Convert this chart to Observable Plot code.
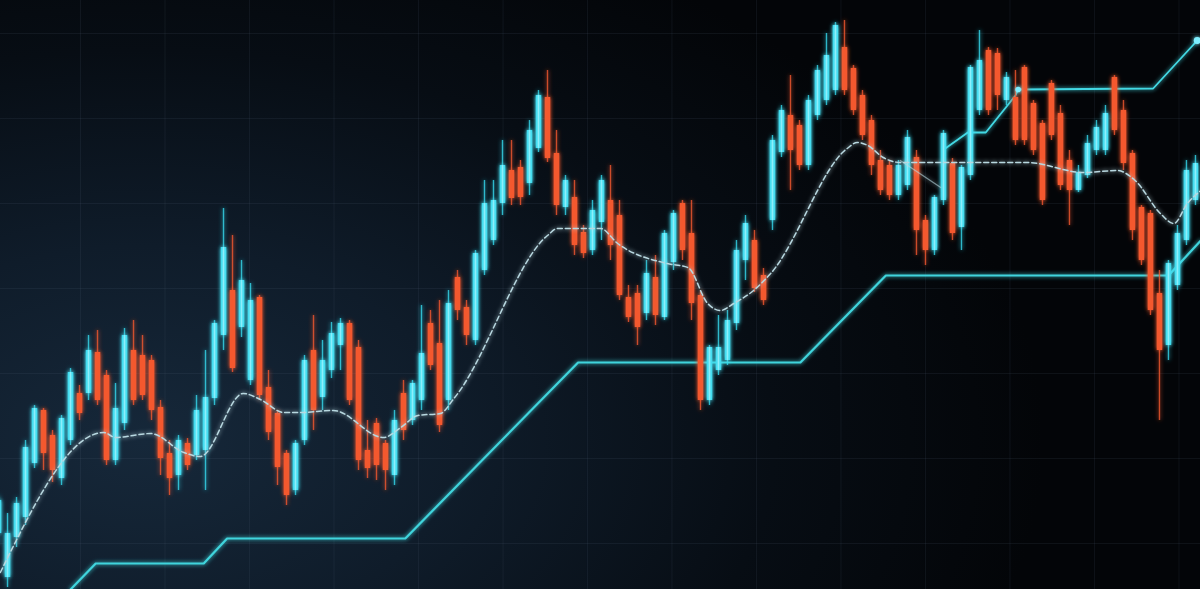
<!DOCTYPE html>
<html>
<head>
<meta charset="utf-8">
<script src="https://cdn.jsdelivr.net/npm/d3@7"></script>
<script src="https://cdn.jsdelivr.net/npm/@observablehq/plot@0.6"></script>
<style>
  html, body { margin: 0; padding: 0; }
  body {
    width: 1200px; height: 589px; overflow: hidden;
    background: radial-gradient(ellipse 75% 95% at 12% 75%, #16283a 0%, #0f1c2a 35%, #070d14 70%, #030508 100%);
  }
  #chart svg { display: block; }
</style>
</head>
<body>
<div id="chart"></div>
<script>
// Candle values (price units), one per session
const open  = [56,12,52,72,126,179,154,111,149,196,196,237,214,129,166,239,234,229,182,136,114,146,134,139,191,254,299,262,209,292,202,176,136,99,149,239,192,219,244,266,242,139,166,146,114,196,169,189,266,246,189,312,282,249,319,349,386,419,422,406,441,492,436,382,392,357,339,367,389,374,292,296,276,312,272,327,386,356,294,189,219,229,266,329,349,314,369,437,474,464,424,474,489,499,542,521,494,469,429,424,394,404,432,369,339,389,426,362,414,479,539,536,489,492,522,486,466,506,476,429,399,414,439,439,512,479,436,382,376,296,244,304,349,389];
const close = [89,56,86,142,181,136,119,171,217,176,239,189,129,181,254,189,194,179,131,111,149,124,179,192,266,342,221,309,289,194,157,122,94,146,229,179,229,256,266,189,129,121,124,119,169,159,206,236,224,164,286,279,254,336,386,389,424,391,392,459,494,431,384,409,344,336,379,409,344,294,272,262,316,274,356,376,339,286,189,242,242,269,339,366,301,289,449,479,439,424,489,519,534,564,499,479,454,424,399,394,424,452,359,339,392,456,356,422,522,529,479,494,512,449,449,439,389,454,404,399,417,446,462,476,459,426,359,329,279,239,326,356,419,426];
const high  = [94,76,92,149,184,181,159,174,221,204,254,259,219,206,261,269,254,234,189,149,154,151,194,239,269,381,354,329,306,294,219,179,139,149,234,274,249,267,271,269,249,169,171,149,179,209,209,284,279,289,299,319,289,339,409,409,449,449,429,469,499,519,459,414,409,364,389,414,424,389,304,304,329,334,359,379,389,389,299,244,274,279,349,374,359,321,454,484,514,469,494,524,556,567,569,524,499,474,439,429,429,459,439,374,394,459,431,424,524,559,542,541,517,519,524,489,469,509,484,439,424,454,469,484,514,489,439,384,379,319,329,364,429,434];
const low   = [44,2,42,64,121,119,107,104,144,169,189,184,124,124,159,184,189,169,114,94,99,119,129,99,184,239,217,252,204,189,149,104,84,94,144,159,179,211,219,184,119,111,109,99,104,149,164,179,219,157,179,269,244,244,314,344,374,384,384,394,437,427,374,374,334,331,334,349,329,289,267,244,269,264,269,319,329,269,179,184,214,224,259,309,297,284,359,432,399,419,419,469,484,494,494,474,449,414,394,389,389,399,334,324,334,384,349,339,409,474,474,479,484,444,444,434,384,449,399,364,397,411,434,434,454,419,349,324,274,169,229,299,344,384];

// Moving average (session index, value)
const maIndex = [0.2,11.7,13,16.9,20.6,22.4,27.2,29.1,31.7,33.6,37.2,42.8,44.7,46.6,49.1,50.6,61,62.1,66.9,68.8,74.3,76.6,78.8,80.2,81.7,83.9,85.8,94.3,95.4,96.6,98.3,100.2,114.3,120.6,124.3,126.3,129.1,130.6,132.1,133.6];
const maValue = [17,157,152,156,137,133,196,190,177,177,179,152,162,174,176,191,354,361,361,346,326,322,286,279,286,299,316,441,447,444,432,427,427,417,419,409,376,366,386,399];
// Secondary average segment
const ma2Index = [100.2,104.7];
const ma2Value = [429,402];

// Support step line
const supportIndex = [8,10.8,22.8,25.4,45.2,64.4,89.1,98.6,130,133.6];
const supportValue = [0,26,26,51,51,227,227,314,314,349];

// Upper trend line
const trendIndex = [105.2,107.7,109.7,113,113.3,128.3,133.2];
const trendValue = [441,457,457,494,500,501,549];
const markerIndex = [113.3,133.2];
const markerValue = [500,549];
const markerSize = [3,4.5];

// Grid
const gridX = [9.11,18.5,27.89,37.28,46.67,56.06,65.44,74.83,84.22,93.61,103,112.39,121.78,131.17];
const gridY = [46,131,216,301,386,471,556];

const candles = open.map((o, i) => ({i, open: o, close: close[i], high: high[i], low: low[i], up: close[i] >= o}));
const ups = candles.filter(d => d.up);
const downs = candles.filter(d => !d.up);
const ma = maIndex.map((x, k) => ({i: x, v: maValue[k]}));
const ma2 = ma2Index.map((x, k) => ({i: x, v: ma2Value[k]}));
const support = supportIndex.map((x, k) => ({i: x, v: supportValue[k]}));
const trend = trendIndex.map((x, k) => ({i: x, v: trendValue[k]}));
const markers = markerIndex.map((x, k) => ({i: x, v: markerValue[k], r: markerSize[k]}));

const CYAN = "#35d9ee";
const ORANGE = "#f4582f";

const chart = Plot.plot({
  width: 1200,
  height: 589,
  margin: 0,
  style: {background: "transparent", overflow: "visible"},
  x: {domain: [0.22, 133.56], axis: null},
  y: {domain: [0, 589], axis: null},
  marks: [
    Plot.ruleX(gridX, {stroke: "#5a7080", strokeOpacity: 0.13, strokeWidth: 1}),
    Plot.ruleY(gridY, {stroke: "#5a7080", strokeOpacity: 0.13, strokeWidth: 1}),
    Plot.line(support, {x: "i", y: "v", stroke: "#3fd4dc", strokeWidth: 2.2}),
    Plot.line(trend, {x: "i", y: "v", stroke: "#43d9e4", strokeWidth: 1.8}),
    Plot.ruleX(downs, {x: "i", y1: "low", y2: "high", stroke: ORANGE, strokeWidth: 1.4, strokeOpacity: 0.8}),
    Plot.ruleX(ups, {x: "i", y1: "low", y2: "high", stroke: CYAN, strokeWidth: 1.4, strokeOpacity: 0.8}),
    Plot.ruleX(downs, {x: "i", y1: "open", y2: "close", stroke: ORANGE, strokeWidth: 5.5}),
    Plot.ruleX(ups, {x: "i", y1: "open", y2: "close", stroke: CYAN, strokeWidth: 5.5}),
    Plot.ruleX(ups, {x: "i", y1: "open", y2: "close", stroke: "#a8f6ff", strokeWidth: 1.6, strokeOpacity: 0.7}),
    Plot.line(ma, {x: "i", y: "v", stroke: "#b8d8e0", strokeWidth: 1.5, strokeDasharray: "5,3", curve: "monotone-x"}),
    Plot.line(ma2, {x: "i", y: "v", stroke: "#b8d8e0", strokeWidth: 1.2, strokeOpacity: 0.6}),
    Plot.dot(markers, {x: "i", y: "v", r: "r", fill: "#7fefff", stroke: "none"})
  ]
});

// glow effect
const svgNS = "http://www.w3.org/2000/svg";
const defs = document.createElementNS(svgNS, "defs");
defs.innerHTML = '<filter id="glow" x="-50%" y="-20%" width="200%" height="140%">' +
  '<feGaussianBlur in="SourceGraphic" stdDeviation="2.2" result="b"/>' +
  '<feMerge><feMergeNode in="b"/><feMergeNode in="SourceGraphic"/></feMerge></filter>';
chart.insertBefore(defs, chart.firstChild);
const groups = Array.from(chart.children).filter(n => n.tagName.toLowerCase() === "g");
groups.forEach((g, k) => { if (k >= 2) g.setAttribute("filter", "url(#glow)"); });

document.getElementById("chart").appendChild(chart);
</script>
</body>
</html>
